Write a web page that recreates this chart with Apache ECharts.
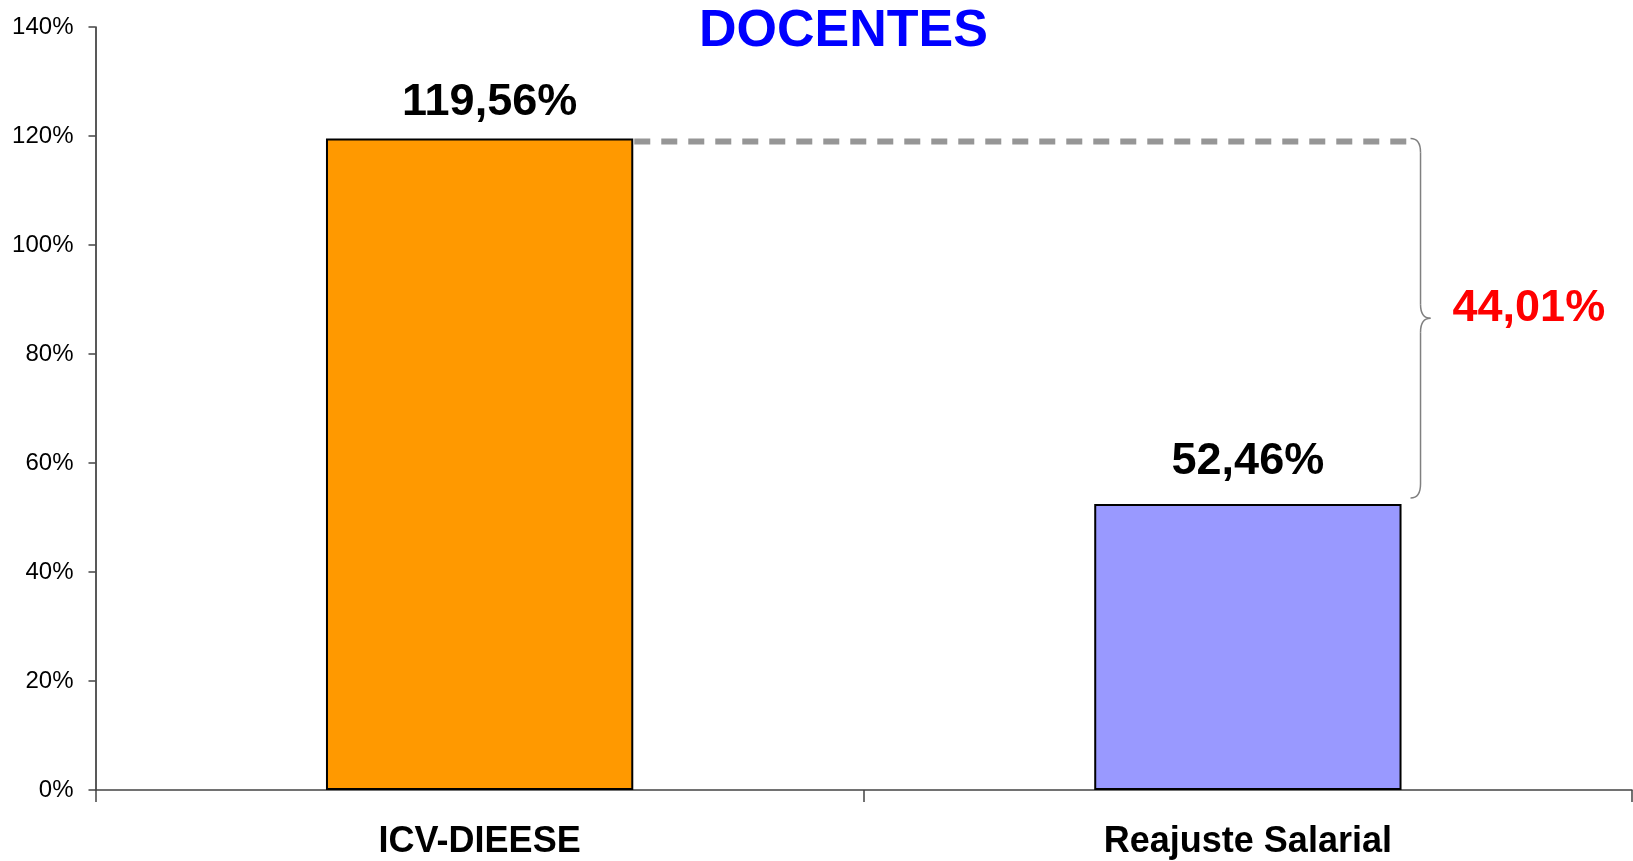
<!DOCTYPE html>
<html>
<head>
<meta charset="utf-8">
<script src="https://cdn.jsdelivr.net/npm/echarts@6/dist/echarts.min.js"></script>
<style>
html,body{margin:0;padding:0;background:#fff;}
#c{width:1633px;height:861px;}
</style>
</head>
<body>
<div id="c"></div>
<script>
const titleText = 'DOCENTES';
const categories = ['ICV-DIEESE', 'Reajuste Salarial'];
const values = [119.56, 52.46];
const valueLabels = ['119,56%', '52,46%'];
const barColors = ['#FF9900', '#9999FF'];
const differenceLabel = '44,01%';
const yMin = 0, yMax = 140, yStep = 20;

const FONT = '"Liberation Sans", Arial, sans-serif';
const chart = echarts.init(document.getElementById('c'), null, {renderer: 'canvas'});

const option = {
  animation: false,
  backgroundColor: '#ffffff',
  title: {
    text: titleText,
    left: 694, top: 1,
    textStyle: {fontFamily: FONT, fontSize: 52, fontWeight: 'bold', color: '#0000FF'}
  },
  grid: {left: 95.5, right: 1, top: 27, bottom: 71, containLabel: false},
  xAxis: {
    type: 'category',
    data: categories,
    axisLine: {lineStyle: {color: '#444444', width: 1.5}},
    axisTick: {show: true, length: 12, inside: false, lineStyle: {color: '#444444', width: 1.5}},
    axisLabel: {fontFamily: FONT, fontSize: 36, fontWeight: 'bold', color: '#000', margin: 34}
  },
  yAxis: {
    type: 'value',
    min: yMin, max: yMax, interval: yStep,
    axisLine: {show: true, lineStyle: {color: '#222', width: 1.5}},
    axisTick: {show: true, length: 7, lineStyle: {color: '#444', width: 1.5}},
    splitLine: {show: false},
    axisLabel: {fontFamily: FONT, fontSize: 24, color: '#000', margin: 22, formatter: '{value}%'}
  },
  series: [{
    type: 'bar',
    barWidth: '40%',
    data: values.map((v, i) => ({
      value: v,
      itemStyle: {color: barColors[i], borderColor: '#000', borderWidth: 2},
      label: {
        show: true, position: 'top',
        distance: i === 0 ? 13 : 20,
        offset: i === 0 ? [10, 0] : [0, 0],
        formatter: valueLabels[i],
        fontFamily: FONT, fontSize: 45, fontWeight: 'bold', color: '#000'
      }
    }))
  }]
};
chart.setOption(option);

// Annotation: dashed reference line and brace, positioned via the chart's scales
const p0 = chart.convertToPixel({gridIndex: 0}, [0, values[0]]);
const p1 = chart.convertToPixel({gridIndex: 0}, [1, values[1]]);
const catW = p1[0] - p0[0];
const halfBar = catW * 0.2;
const yTop = p0[1];
const yBot = p1[1] - 6;
const lineY = yTop + 3;
const xb0 = p1[0] + halfBar + 9;
const xb1 = xb0 + 10;
const xb2 = xb0 + 20;
const yMid = (yTop + yBot) / 2;
const r = 14;
const braceStyle = {stroke: '#808080', lineWidth: 1.5, fill: null};

chart.setOption({
  graphic: [
    {
      type: 'line',
      shape: {x1: p0[0] + halfBar + 1, y1: lineY, x2: xb0, y2: lineY},
      style: {stroke: '#969696', lineWidth: 6, lineDash: [16, 11]},
      z: 5
    },
    {type: 'bezierCurve', shape: {x1: xb0, y1: yTop, cpx1: xb1, cpy1: yTop, x2: xb1, y2: yTop + r}, style: braceStyle, z: 5},
    {type: 'line', shape: {x1: xb1, y1: yTop + r, x2: xb1, y2: yMid - r}, style: braceStyle, z: 5},
    {type: 'bezierCurve', shape: {x1: xb1, y1: yMid - r, cpx1: xb1, cpy1: yMid, x2: xb2, y2: yMid}, style: braceStyle, z: 5},
    {type: 'bezierCurve', shape: {x1: xb2, y1: yMid, cpx1: xb1, cpy1: yMid, x2: xb1, y2: yMid + r}, style: braceStyle, z: 5},
    {type: 'line', shape: {x1: xb1, y1: yMid + r, x2: xb1, y2: yBot - r}, style: braceStyle, z: 5},
    {type: 'bezierCurve', shape: {x1: xb1, y1: yBot - r, cpx1: xb1, cpy1: yBot, x2: xb0, y2: yBot}, style: braceStyle, z: 5},
    {
      type: 'text',
      x: xb0 + 42, y: yMid - 10,
      style: {
        text: differenceLabel,
        fill: '#FF0000',
        font: 'bold 45px ' + FONT,
        verticalAlign: 'middle'
      },
      z: 6
    }
  ]
});
</script>
</body>
</html>
